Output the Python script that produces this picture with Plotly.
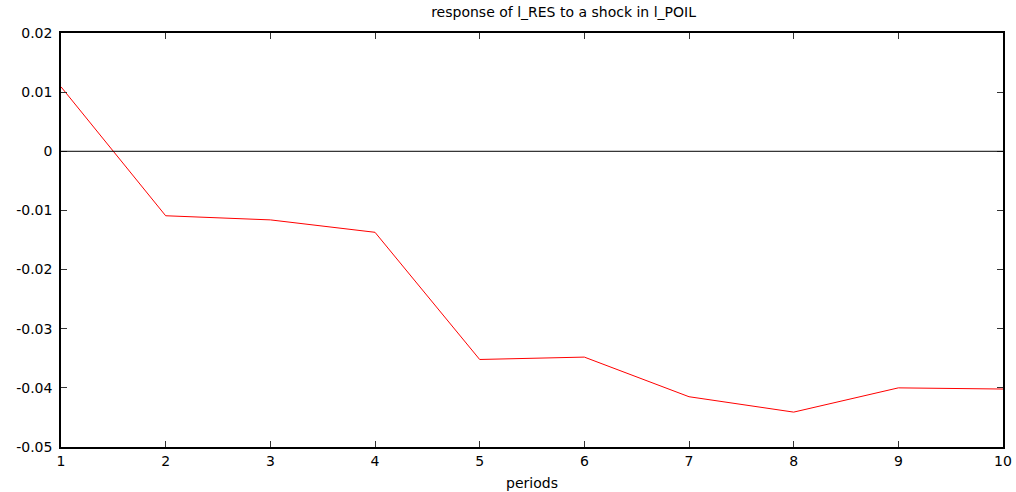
import plotly.graph_objects as go

periods = [1, 2, 3, 4, 5, 6, 7, 8, 9, 10]
response = [0.0109, -0.0109, -0.0116, -0.0137, -0.0352, -0.0348, -0.0415, -0.0441, -0.0400, -0.0402]
y_ticks = [0.02, 0.01, 0, -0.01, -0.02, -0.03, -0.04, -0.05]
y_labels = ["0.02", "0.01", "0", "-0.01", "-0.02", "-0.03", "-0.04", "-0.05"]

font = dict(family="DejaVu Sans", size=14, color="black")

fig = go.Figure()
fig.add_trace(go.Scatter(x=periods, y=response, mode="lines",
                         line=dict(color="#ff0000", width=1), showlegend=False))
fig.add_hline(y=0, line=dict(color="black", width=1))

fig.update_layout(
    width=1016, height=492,
    margin=dict(l=61, r=13, t=33, b=45, autoexpand=False),
    paper_bgcolor="white", plot_bgcolor="white",
    font=font,
    title=dict(text="response of l_RES to a shock in l_POIL", x=0.5335, xanchor="center",
               xref="paper", y=1 - 12 / 492, yref="container", yanchor="middle",
               font=dict(family="DejaVu Sans", size=14), automargin=False),
    xaxis=dict(range=[1, 10], tickvals=periods, ticktext=[str(p) for p in periods],
               ticks="inside", ticklen=6, tickcolor="#333333", showline=True, linecolor="black",
               linewidth=1.5, mirror="ticks", showgrid=False, zeroline=False, automargin=False,
               title=dict(text="periods", standoff=11, font=dict(size=14))),
    yaxis=dict(range=[-0.05, 0.02], tickvals=y_ticks, ticktext=y_labels,
               ticks="inside", ticklen=6, tickcolor="#333333", showline=True, linecolor="black",
               linewidth=1.5, mirror="ticks", showgrid=False, zeroline=False, automargin=False,
               ticklabelstandoff=4),
)

fig.write_html("out.html", config={"displayModeBar": False},
               post_script="document.body.style.margin='0';")
